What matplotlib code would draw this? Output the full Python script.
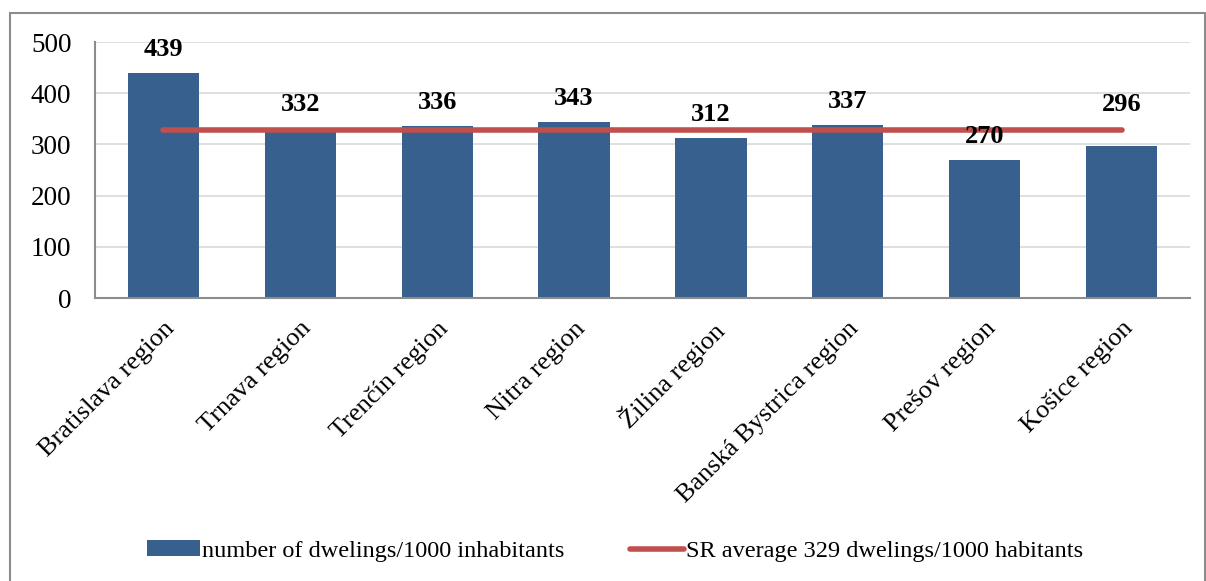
import matplotlib.pyplot as plt
import numpy as np
from matplotlib.patches import Rectangle

regions = ["Bratislava region", "Trnava region", "Trenčín region", "Nitra region",
           "Žilina region", "Banská Bystrica region", "Prešov region", "Košice region"]
dwellings = [439, 332, 336, 343, 312, 337, 270, 296]
sr_average = 329

# label offsets above bar top (points); Košice label pushed up above the line
label_offsets = [17, 17, 17, 17, 17, 17, 17, 30]

plt.rcParams['font.family'] = ['Liberation Serif', 'DejaVu Serif']

fig = plt.figure(figsize=(12.06, 5.81), dpi=100)
ax = fig.add_axes([95/1206, 1-298/581, (1190-95)/1206, (298-42)/581])

x = np.arange(len(regions))
bars = ax.bar(x, dwellings, width=0.52, color='#37608F', zorder=2,
              label="number of dwelings/1000 inhabitants")
line, = ax.plot(x, [sr_average]*len(x), color='#C0504D', lw=4, solid_capstyle='round', zorder=3,
                label="SR average 329 dwelings/1000 habitants")

for xi, v, off in zip(x, dwellings, label_offsets):
    ax.annotate(str(v), (xi, v), xytext=(0, off), textcoords='offset points',
                ha='center', va='center', fontsize=19, fontweight='bold', zorder=4)

ax.set_xlim(-0.5, len(x) - 0.5)
ax.set_ylim(0, 500)
ax.set_yticks(range(0, 501, 100))
ax.yaxis.grid(True, color='#D9D9D9', lw=1.2, zorder=0)
ax.set_axisbelow(True)
ax.tick_params(axis='y', length=0, labelsize=19.5, pad=17)
ax.tick_params(axis='x', length=0, labelsize=19, pad=14)
ax.set_xticks(x)
ax.set_xticklabels(regions, rotation=45, ha='right', rotation_mode='anchor')
for s in ['top', 'right']:
    ax.spines[s].set_visible(False)
for s in ['left', 'bottom']:
    ax.spines[s].set_color('#8C8C8C')
    ax.spines[s].set_linewidth(1.5)

leg = fig.legend([bars, line], [bars.get_label(), line.get_label()],
                 loc='center', bbox_to_anchor=(0.51, 1-551/581), ncol=2, frameon=False,
                 fontsize=17.5, handlelength=2.2, handleheight=0.6, handletextpad=0.1,
                 columnspacing=2.7)

fig.patches.append(Rectangle((10/1206, -0.05), 1195/1206, 1.05-13/581, transform=fig.transFigure,
                             fill=False, edgecolor='#8C8C8C', lw=1.5))

fig.savefig("out.png", dpi=100)
